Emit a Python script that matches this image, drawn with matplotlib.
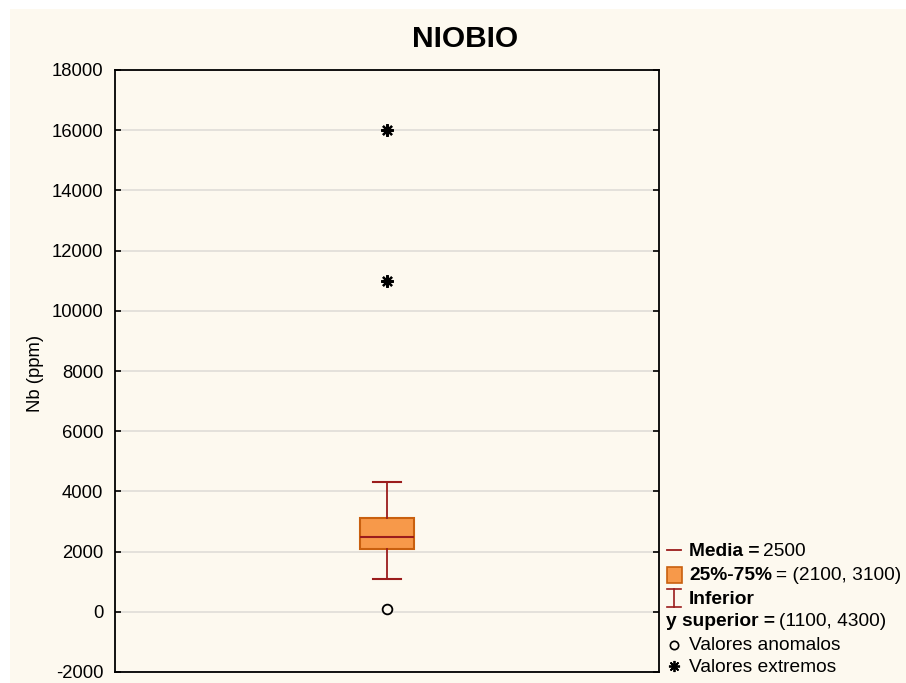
import matplotlib
matplotlib.use("Agg")
import matplotlib.pyplot as plt
from matplotlib.patches import Rectangle
from matplotlib.lines import Line2D

plt.rcParams['font.family'] = ['Liberation Sans', 'DejaVu Sans']
plt.rcParams['axes.unicode_minus'] = False

# ---- datos ----
mediana = 2500
q1, q3 = 2100, 3100
bigote_inf, bigote_sup = 1100, 4300
anomalos = [100]
extremos = [11000, 16000]
yticks = [-2000, 0, 2000, 4000, 6000, 8000, 10000, 12000, 14000, 16000, 18000]

CREMA = '#fdf9ef'
NARANJA = '#f7994a'
BORDE = '#c9600f'
ROJO = '#9b1c1c'
FS = 13.3
FS_LEY = 13.8

W, H = 906, 683
fig = plt.figure(figsize=(W/100, H/100), dpi=100, facecolor='white')
fig.add_artist(Rectangle((10/W, 0), 1, 1-9/H, transform=fig.transFigure,
                         facecolor=CREMA, edgecolor='none', zorder=-10))

ax = fig.add_axes([115/W, 11/H, 544/W, 602/H])
ax.set_facecolor(CREMA)

stats = [dict(med=mediana, q1=q1, q3=q3, whislo=bigote_inf, whishi=bigote_sup, fliers=[])]
ax.bxp(stats, positions=[1], widths=0.2, capwidths=0.1, patch_artist=True, showfliers=False,
       boxprops=dict(facecolor=NARANJA, edgecolor=BORDE, lw=1.5),
       medianprops=dict(color=ROJO, lw=1.5),
       whiskerprops=dict(color=ROJO, lw=1.3),
       capprops=dict(color=ROJO, lw=1.5))
ax.plot([1]*len(anomalos), anomalos, 'o', ms=7, mfc=CREMA, mec='black', mew=1.3, zorder=5)
ax.plot([1]*len(extremos), extremos, marker=(8, 2, 0), ls='none', ms=9, color='black',
        mew=1.6, zorder=5)

ax.set_xlim(0, 2)
ax.set_ylim(-2000, 18000)
ax.set_yticks(yticks)
ax.set_xticks([])
ax.yaxis.grid(True, color='#e0ddd8', lw=1.2)
ax.set_axisbelow(True)
ax.tick_params(axis='y', direction='in', length=4, width=1.2, right=True,
               labelsize=FS, pad=8.5)
for s in ax.spines.values():
    s.set_linewidth(1.3)

fig.text(35/W, 1-373/H, 'Nb (ppm)', rotation=90, ha='center', va='center', fontsize=FS)
fig.text(465/W, 1-39/H, 'NIOBIO', ha='center', va='center', fontsize=21.5, fontweight='bold')

# ---- leyenda ----
r = fig.canvas.get_renderer()
def px(x, y):
    return x/W, 1-y/H

def texto(x, y, negrita, normal):
    t = fig.text(*px(x, y), negrita, fontsize=FS_LEY, fontweight='bold', va='center')
    if normal:
        bb = t.get_window_extent(renderer=r)
        fig.text(bb.x1/W + 4/W, 1-y/H, normal, fontsize=FS_LEY, va='center')

fig.add_artist(Line2D([667/W, 681/W], [1-550/H]*2, color=ROJO, lw=1.3))
texto(689, 551, 'Media =', '2500')
fig.add_artist(Rectangle(px(667, 583), 15/W, 16/H, facecolor=NARANJA, edgecolor=BORDE, lw=1.2))
texto(689, 575, '25%-75%', '= (2100, 3100)')
fig.add_artist(Line2D([674/W, 674/W], [1-589/H, 1-607/H], color=ROJO, lw=1.2))
fig.add_artist(Line2D([667/W, 681/W], [1-589/H]*2, color=ROJO, lw=1.2))
fig.add_artist(Line2D([667/W, 681/W], [1-607/H]*2, color=ROJO, lw=1.2))
texto(689, 599, 'Inferior', '')
texto(666, 622, 'y superior =', '(1100, 4300)')
fig.add_artist(Line2D([674/W], [1-645/H], marker='o', ms=6, mfc=CREMA, mec='black', mew=1.2))
fig.text(*px(689, 646), 'Valores anomalos', fontsize=FS_LEY, va='center')
fig.add_artist(Line2D([674/W], [1-666/H], marker=(8, 2, 0), ms=8, color='black', mew=1.3))
fig.text(*px(689, 667), 'Valores extremos', fontsize=FS_LEY, va='center')

fig.savefig('out.png', dpi=100, facecolor='white')
